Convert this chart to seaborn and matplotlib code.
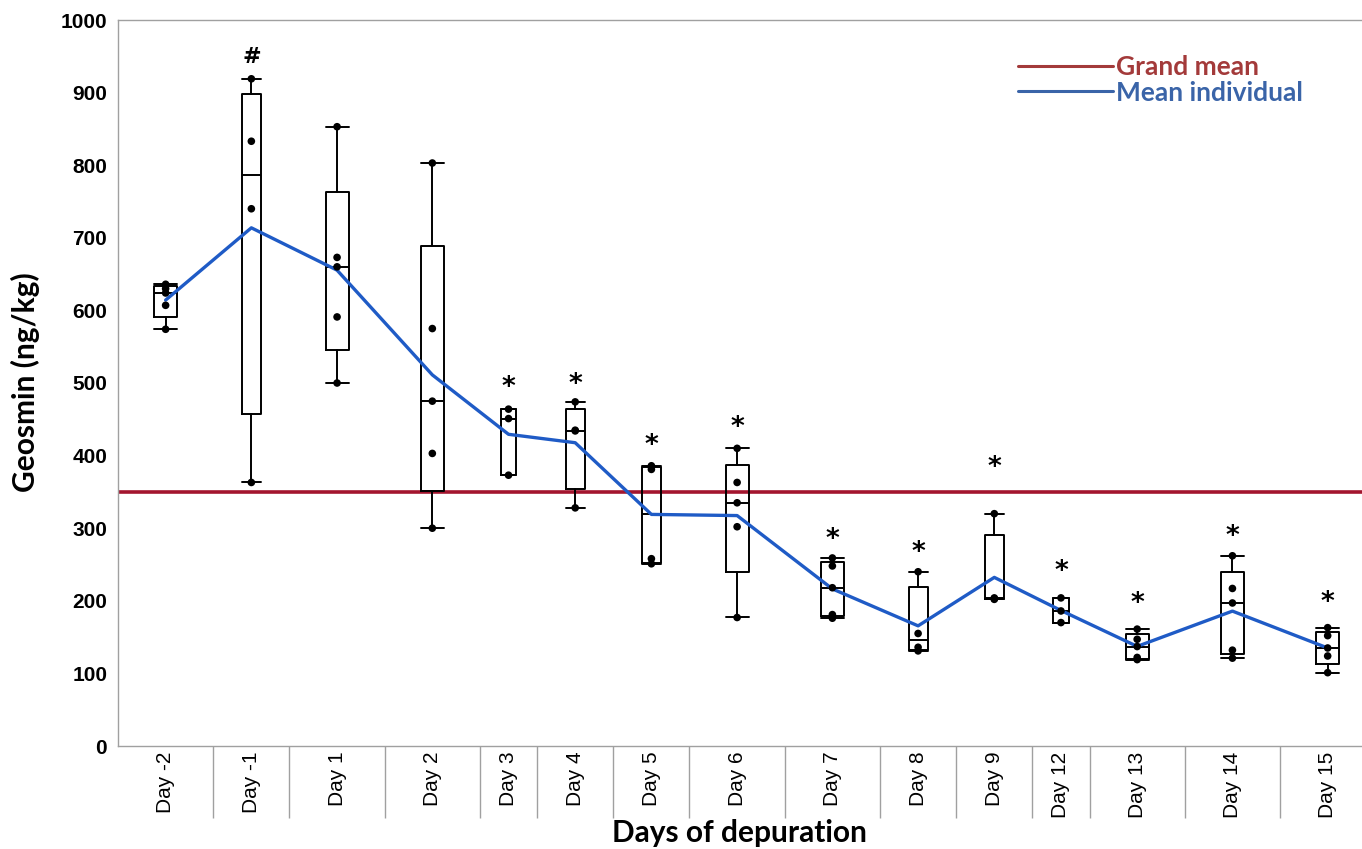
import numpy as np
import pandas as pd
import matplotlib
matplotlib.use("Agg")
import matplotlib.pyplot as plt
import matplotlib.transforms as mtransforms
from matplotlib.lines import Line2D
import seaborn as sns

# ---- data: geosmin concentration (ng/kg) per fish, by sampling day ----
days = ["Day -2", "Day -1", "Day 1", "Day 2", "Day 3", "Day 4", "Day 5", "Day 6",
        "Day 7", "Day 8", "Day 9", "Day 12", "Day 13", "Day 14", "Day 15"]

day_m2 = [636, 630, 624, 607, 574]
day_m1 = [919, 833, 740, 363]
day_1 = [853, 673, 660, 591, 500]
day_2 = [803, 575, 475, 403, 300]
day_3 = [464, 451, 373]
day_4 = [474, 435, 434, 328]
day_5 = [386, 381, 258, 251]
day_6 = [410, 363, 335, 302, 177]
day_7 = [259, 248, 218, 181, 176]
day_8 = [240, 155, 136, 131]
day_9 = [320, 204, 203, 202]
day_12 = [204, 186, 170]
day_13 = [161, 147, 137, 122, 119]
day_14 = [262, 217, 197, 132, 121]
day_15 = [163, 152, 135, 124, 101]

# significance marks drawn above each day
marks = ["", "#", "", "", "*", "*", "*", "*", "*", "*", "*", "*", "*", "*", "*"]
# vertical offset of each mark above the day's maximum (pixels)
mark_offset_px = [0, 22, 0, 0, 21, 17, 20, 20, 18, 19, 46, 26, 25, 19, 25]

groups = [day_m2, day_m1, day_1, day_2, day_3, day_4, day_5, day_6,
          day_7, day_8, day_9, day_12, day_13, day_14, day_15]

# ---- layout: each day occupies a slot proportional to its sample count ----
counts = np.array([len(g) for g in groups])
edges = np.concatenate([[0], np.cumsum(counts)])
centers = edges[:-1] + counts / 2.0
box_w = 0.2 * counts + 0.2

df = pd.DataFrame({
    "day": np.repeat(days, counts),
    "pos": np.repeat(centers, counts),
    "geosmin": np.concatenate(groups).astype(float),
})

sns.set_theme(style="white")
plt.rcParams["font.family"] = ["Liberation Sans", "DejaVu Sans"]
plt.rcParams["text.color"] = "black"
plt.rcParams["axes.labelcolor"] = "black"
plt.rcParams["xtick.labelcolor"] = "black"
plt.rcParams["ytick.labelcolor"] = "black"

W, H, DPI = 1362, 849, 100
fig = plt.figure(figsize=(W / DPI, H / DPI), dpi=DPI)
ax = fig.add_axes([118 / W, 1 - 746 / H, (W - 118) / W, (746 - 20) / H])

# box statistics (JMP-style quantiles)
stats = []
for g in groups:
    v = np.sort(np.asarray(g, float))
    q1, med, q3 = np.percentile(v, [25, 50, 75], method="weibull")
    iqr = q3 - q1
    lo = v[v >= q1 - 1.5 * iqr].min()
    hi = v[v <= q3 + 1.5 * iqr].max()
    stats.append(dict(med=med, q1=q1, q3=q3, whislo=lo, whishi=hi, fliers=[]))

lw_box = 1.4
ax.bxp(stats, positions=centers, widths=box_w, capwidths=box_w, showfliers=False,
       manage_ticks=False,
       boxprops=dict(color="black", lw=lw_box),
       whiskerprops=dict(color="black", lw=lw_box),
       capprops=dict(color="black", lw=lw_box),
       medianprops=dict(color="black", lw=lw_box), zorder=3)

# grand mean of all fish
grand_mean = df["geosmin"].mean()
ax.axhline(grand_mean, color="#a3152e", lw=2.6, zorder=2)

# mean of each day
sns.lineplot(data=df, x="pos", y="geosmin", estimator="mean", errorbar=None,
             color="#1f5bc6", lw=2.4, ax=ax, zorder=4)

# individual fish
sns.scatterplot(data=df, x="pos", y="geosmin", color="black", s=30,
                edgecolor="none", ax=ax, zorder=5, legend=False)

# significance marks
for c, g, m, off in zip(centers, groups, marks, mark_offset_px):
    if m:
        ax.annotate(m, xy=(c, max(g)), xytext=(0, off * 72 / DPI),
                    textcoords="offset points", ha="center", va="center",
                    fontsize=19 if m == "*" else 16, fontweight="bold",
                    family=["DejaVu Sans"], color="black", zorder=6)

ax.set_xlim(0, (W - 118) / 19.05)
ax.set_ylim(0, 1000)

# axes frame
grey = "#a0a0a0"
for side in ["top", "left", "bottom"]:
    ax.spines[side].set_color(grey)
    ax.spines[side].set_linewidth(1.0)
ax.spines["right"].set_visible(False)

ax.set_yticks(np.arange(0, 1001, 100))
ax.tick_params(axis="y", direction="out", length=8 * 72 / DPI, width=1,
               color=grey, pad=2, labelsize=15)
for t in ax.get_yticklabels():
    t.set_fontweight("bold")

ax.set_xticks(centers)
ax.set_xticklabels(days, rotation=90, fontsize=15)
ax.tick_params(axis="x", length=0, pad=4)

# category separators below the axis
trans = mtransforms.blended_transform_factory(ax.transData, ax.transAxes)
ax.vlines(edges[1:-1], 0, -(818 - 746) / 726, transform=trans, clip_on=False,
          color=grey, lw=1.0)

ax.set_xlabel("Days of depuration", family=["Lato", "DejaVu Sans"],
              fontweight="bold", fontsize=21.5, va="top")
ax.xaxis.set_label_coords((739 - 118) / (W - 118), -(819 - 746) / 726)
ax.set_ylabel("Geosmin (ng/kg)", family=["Lato", "DejaVu Sans"],
              fontweight="bold", fontsize=21.5, va="center")
ax.yaxis.set_label_coords((25 - 118) / (W - 118), (746 - 382) / 726)

handles = [Line2D([], [], color="#a33a3a", lw=2.2),
           Line2D([], [], color="#3a64a8", lw=2.2)]
leg = ax.legend(handles, ["Grand mean", "Mean individual"], loc="center left",
                bbox_to_anchor=((1018 - 118) / (W - 118), (746 - 80) / 726),
                frameon=False, handlelength=3.6, handletextpad=0.1,
                labelspacing=0.05, borderpad=0, borderaxespad=0,
                prop=dict(family="Lato", weight="bold", size=19),
                labelcolor=["#a33a3a", "#3a64a8"])

fig.savefig("out.png", dpi=DPI)
